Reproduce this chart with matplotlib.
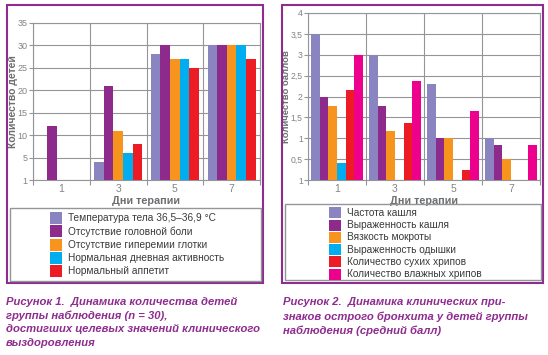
import matplotlib
matplotlib.use("Agg")
import matplotlib.pyplot as plt
from matplotlib.patches import Rectangle
import numpy as np

# ---------------- data ----------------
days = ["1", "3", "5", "7"]

left_series = ["Температура тела 36,5–36,9 °C", "Отсутствие головной боли",
               "Отсутствие гиперемии глотки", "Нормальная дневная активность",
               "Нормальный аппетит"]
temp_norm = [0, 4, 28, 30]
no_headache = [12, 21, 30, 30]
no_hyperemia = [0, 11, 27, 30]
normal_activity = [0, 6, 27, 30]
normal_appetite = [0, 8, 25, 27]
left_values = [temp_norm, no_headache, no_hyperemia, normal_activity, normal_appetite]
left_yticks = [0, 5, 10, 15, 20, 25, 30, 35]
left_yticklabels = ["1", "5", "10", "15", "20", "25", "30", "35"]

right_series = ["Частота кашля", "Выраженность кашля", "Вязкость мокроты",
                "Выраженность одышки", "Количество сухих хрипов",
                "Количество влажных хрипов"]
cough_freq = [3.5, 3.0, 2.3, 1.0]
cough_sev = [2.0, 1.77, 1.0, 0.83]
sputum = [1.77, 1.17, 1.0, 0.5]
dyspnea = [0.4, 0, 0, 0]
dry_rales = [2.16, 1.36, 0.23, 0]
wet_rales = [3.0, 2.37, 1.65, 0.83]
right_values = [cough_freq, cough_sev, sputum, dyspnea, dry_rales, wet_rales]
right_yticks = [0, 0.5, 1, 1.5, 2, 2.5, 3, 3.5, 4]
right_yticklabels = ["1", "0,5", "1", "1,5", "2", "2,5", "3", "3,5", "4"]

left_colors = ["#8a84c0", "#8e2a8c", "#f7941d", "#00aeef", "#ed1c24"]
right_colors = ["#8a84c0", "#8e2a8c", "#f7941d", "#00aeef", "#ed1c24", "#ec008c"]

caption1 = ["Рисунок 1.  Динамика количества детей",
            "группы наблюдения (n = 30),",
            "достигших целевых значений клинического",
            "выздоровления"]
caption2 = ["Рисунок 2.  Динамика клинических при-",
            "знаков острого бронхита у детей группы",
            "наблюдения (средний балл)"]

# ---------------- styling ----------------
W, H = 548, 355
FAM = ["Liberation Sans", "DejaVu Sans"]
purple = "#8e2c8f"
grid_c = "#939598"
tick_c = "#808285"
lab_c = "#6d6e71"
txt_c = "#3a3a3c"

fig = plt.figure(figsize=(W / 100, H / 100), dpi=100)


def fx(x):
    return x / W


def fy(y):
    return 1 - y / H


def box(x0, y0, x1, y1, color, lw):
    fig.patches.append(Rectangle((fx(x0), fy(y1)), fx(x1 - x0), (y1 - y0) / H,
                                 transform=fig.transFigure, fill=False,
                                 edgecolor=color, linewidth=lw))


def panel(rect, values, colors, yticks, yticklabels, ymax, group_frac, ylabel,
          ylab_x, ylab_fs, ytick_fs):
    x0, y0, x1, y1 = rect
    ax = fig.add_axes([fx(x0), fy(y1), fx(x1 - x0), (y1 - y0) / H])
    n = len(values)
    bw = group_frac / n
    x = np.arange(len(days))
    for i, (vals, c) in enumerate(zip(values, colors)):
        ax.bar(x - group_frac / 2 + bw * (i + 0.5), vals, width=bw, color=c,
               zorder=3, linewidth=0)
    ax.set_xlim(-0.5, len(days) - 0.5)
    ax.set_ylim(0, ymax)
    ax.set_yticks(yticks)
    ax.set_yticklabels(yticklabels, family=FAM, fontsize=ytick_fs, color=tick_c)
    ax.set_xticks(x)
    ax.set_xticklabels(days, family=FAM, fontsize=7.5, color=tick_c)
    ax.set_xticks(np.arange(len(days) + 1) - 0.5, minor=True)
    ax.tick_params(axis="x", which="major", length=0, pad=3)
    ax.tick_params(axis="x", which="minor", length=3.5, color=grid_c, width=0.8)
    ax.tick_params(axis="y", length=3, color=grid_c, width=0.8, pad=0.8)
    ax.grid(axis="y", color=grid_c, linewidth=0.8, zorder=0)
    ax.grid(axis="x", which="minor", color=grid_c, linewidth=0.8, zorder=0)
    for s in ax.spines.values():
        s.set_color(grid_c)
        s.set_linewidth(0.8)
    ax.set_xlabel("Дни терапии", family=FAM, fontsize=7.8, fontweight="bold",
                  color=lab_c, labelpad=1.5)
    ax.set_ylabel(ylabel, family=FAM, fontsize=ylab_fs, fontweight="bold",
                  color=lab_c)
    ax.yaxis.set_label_coords((ylab_x - x0) / (x1 - x0), 0.5)
    ax.yaxis.label.set_va("center")
    return ax


panel((33, 23, 260, 180), left_values, left_colors, left_yticks,
      left_yticklabels, 35, 0.85, "Количество детей", 13, 7.5, 6.5)
panel((308, 13, 540, 180), right_values, right_colors, right_yticks,
      right_yticklabels, 4, 0.9, "Количество баллов", 286.5, 6.8, 6.2)

# frames
box(7, 5, 263, 283, purple, 1.5)
box(282, 5, 543, 283, purple, 1.5)
# legend boxes
box(10, 208, 261, 281, grid_c, 1.0)
box(285, 204, 541, 280, grid_c, 1.0)

# legends
for k, (name, c) in enumerate(zip(left_series, left_colors)):
    yc = 218 + k * 13.3
    fig.patches.append(Rectangle((fx(50), fy(yc + 6)), fx(12), 12 / H,
                                 transform=fig.transFigure, color=c, linewidth=0))
    fig.text(fx(68), fy(yc), name, family=FAM, fontsize=7.3, color=txt_c,
             va="center", ha="left")
for k, (name, c) in enumerate(zip(right_series, right_colors)):
    yc = 213 + k * 12.2
    fig.patches.append(Rectangle((fx(329), fy(yc + 5.5)), fx(12), 11 / H,
                                 transform=fig.transFigure, color=c, linewidth=0))
    fig.text(fx(347), fy(yc), name, family=FAM, fontsize=7.3, color=txt_c,
             va="center", ha="left")

# captions
for k, line in enumerate(caption1):
    fig.text(fx(6), fy(302 + k * 13.7), line, family=FAM, fontsize=8.1,
             fontweight="bold", fontstyle="italic", color=purple,
             va="center", ha="left")
for k, line in enumerate(caption2):
    fig.text(fx(283), fy(302 + k * 14.5), line, family=FAM, fontsize=8.1,
             fontweight="bold", fontstyle="italic", color=purple,
             va="center", ha="left")

fig.savefig("out.png", dpi=100)
